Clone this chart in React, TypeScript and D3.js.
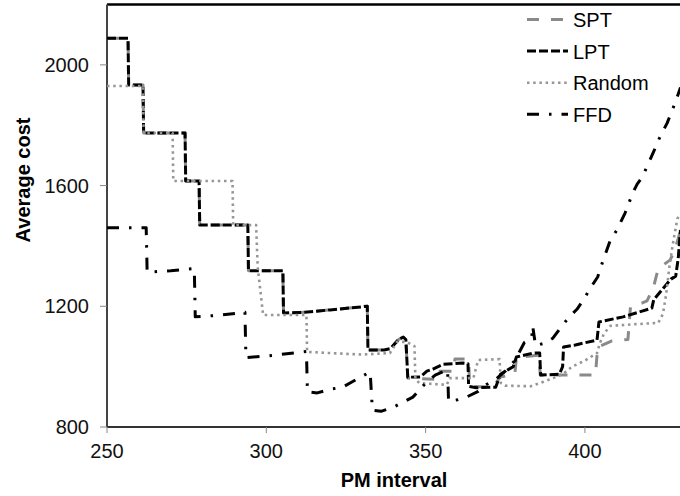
import React from "react";
import * as d3 from "d3";

type P = [number, number];

const xTicks = [250, 300, 350, 400];
const yTicks = [800, 1200, 1600, 2000];
const seriesNames = ["SPT", "LPT", "Random", "FFD"];

const sptPoints: P[] = [
  [250, 2088], [256.6, 2088], [256.8, 1933], [261.3, 1933], [261.5, 1774], [274.5, 1774],
  [274.7, 1615], [278.9, 1615], [279.1, 1469], [294.2, 1469], [294.4, 1318], [305.2, 1318],
  [305.4, 1178], [312, 1180], [320, 1188], [331.7, 1200], [331.9, 1055], [337, 1055],
  [339, 1060], [341.5, 1090], [343, 1098], [343.8, 1090], [344.4, 962], [354, 958],
  [354.5, 985], [358.8, 985], [359.2, 1025], [363.5, 1025], [363.8, 935], [371, 932],
  [373.5, 966], [378, 975], [378.5, 1030], [385.5, 1038], [386, 972], [403.3, 972],
  [404, 1065], [408.5, 1085], [413.5, 1090], [414.3, 1198], [418, 1211], [419.5, 1218],
  [421.5, 1262], [423, 1325], [426.7, 1353], [428, 1380], [430, 1450],
];

const lptPoints: P[] = [
  [250, 2088], [256.6, 2088], [256.8, 1933], [261.3, 1933], [261.5, 1774], [274.5, 1774],
  [274.7, 1615], [278.9, 1615], [279.1, 1469], [294.2, 1469], [294.4, 1318], [305.2, 1318],
  [305.4, 1178], [312, 1180], [320, 1188], [331.7, 1200], [331.9, 1055], [337, 1055],
  [339, 1060], [341.5, 1090], [343, 1098], [343.8, 1090], [344.4, 965], [348.3, 966],
  [350.4, 985], [352.3, 992], [355.5, 1008], [361.7, 1012], [363.3, 1010], [363.5, 935],
  [366, 930], [372, 932], [373.5, 975], [377.5, 1000], [378.5, 1032], [383.7, 1045],
  [385.8, 1045], [386.1, 972], [392, 975], [393, 1000], [393.3, 1065], [397, 1072],
  [403.8, 1088], [404.4, 1148], [412, 1165], [421, 1194], [421.6, 1222], [427, 1290],
  [428.5, 1300], [429.3, 1360], [430, 1453],
];

const randomPoints: P[] = [
  [250, 1930], [261.3, 1930], [261.5, 1774], [270.6, 1774], [270.8, 1615], [289.4, 1615],
  [289.6, 1469], [296.8, 1469], [297.3, 1330], [299, 1171], [312.6, 1171], [312.8, 1049],
  [320, 1045], [330, 1040], [338.8, 1045], [341, 1082], [344, 1082], [346.5, 1068],
  [346.8, 956], [348.2, 945], [356.7, 940], [357.5, 962], [365, 962], [366.5, 1022],
  [373.2, 1025], [373.6, 946], [375, 937], [383, 935], [387, 950], [390, 962], [393, 975],
  [396, 1000], [400, 1020], [403.8, 1045], [404.7, 1078], [406, 1110], [408, 1135],
  [415, 1140], [423, 1145], [424.5, 1175], [425.5, 1240], [426.5, 1330], [427.5, 1400],
  [429, 1490], [430, 1505],
];

const ffdPoints: P[] = [
  [250, 1460], [262.3, 1460], [262.6, 1313], [270, 1318], [277.4, 1325], [277.7, 1165],
  [285, 1170], [293.3, 1180], [293.6, 1030], [300, 1035], [312.6, 1050], [312.9, 917],
  [316, 913], [320, 925], [324, 932], [326.3, 946], [330, 968], [332.6, 982], [333.3, 856],
  [336, 852], [340, 866], [343, 883], [346, 899], [350, 945], [353, 972], [356.9, 990],
  [357.2, 885], [360, 890], [363, 900], [366.5, 918], [369, 940], [372, 958], [375, 985],
  [378, 1020], [381, 1080], [383.3, 1095], [383.6, 1135], [384.5, 1070], [387.5, 1078],
  [390, 1095], [392.5, 1131], [395, 1164], [397.5, 1190], [399.5, 1221], [402, 1265],
  [404, 1297], [405, 1330], [408, 1420], [410, 1452], [412.6, 1509], [415, 1575],
  [416.4, 1605], [418, 1628], [421.4, 1708], [423.5, 1760], [425.8, 1807], [428.3, 1874],
  [430, 1925],
];

const seriesData = [sptPoints, lptPoints, randomPoints, ffdPoints];

const styles = [
  { color: "#8a8a8a", width: 3, dash: "12 12" },
  { color: "#000000", width: 3, dash: "9 3" },
  { color: "#969696", width: 2.6, dash: "2.5 3.7" },
  { color: "#000000", width: 3, dash: "12 10 2.5 10" },
];

const W = 680;
const H = 496;
const left = 107;
const right = 680.5;
const top = 4.5;
const bottom = 427;

export default function App() {
  const x = d3.scaleLinear().domain([250, 430]).range([left, right]);
  const y = d3.scaleLinear().domain([800, 2200]).range([bottom, top]);
  const line = d3
    .line<P>()
    .x((d) => x(d[0]))
    .y((d) => y(d[1]));
  const font = "'Liberation Sans', Arial, sans-serif";

  return (
    <svg
      width={W}
      height={H}
      style={{ position: "absolute", left: 0, top: 0, background: "#fff" }}
      fontFamily={font}
    >
      <defs>
        <clipPath id="plot">
          <rect x={left} y={top - 2} width={right - left + 5} height={bottom - top + 2} />
        </clipPath>
      </defs>

      {/* frame */}
      <line x1={left} x2={W} y1={top} y2={top} stroke="#000" strokeWidth={2.5} />
      <line x1={left} x2={left} y1={top} y2={bottom} stroke="#444" strokeWidth={2} />
      <line x1={left} x2={W} y1={bottom} y2={bottom} stroke="#333" strokeWidth={2} />

      {/* y ticks */}
      {yTicks.map((t) => (
        <g key={"y" + t}>
          <line x1={left - 7} x2={left} y1={y(t)} y2={y(t)} stroke="#888" strokeWidth={1} />
          <text x={89} y={y(t) + 7} textAnchor="end" fontSize={20} fill="#111">
            {t}
          </text>
        </g>
      ))}

      {/* x ticks */}
      {xTicks.map((t) => (
        <g key={"x" + t}>
          <line x1={x(t)} x2={x(t)} y1={bottom} y2={bottom + 6} stroke="#888" strokeWidth={1} />
          <text x={x(t)} y={458} textAnchor="middle" fontSize={20} fill="#111">
            {t}
          </text>
        </g>
      ))}

      <text x={394} y={487} textAnchor="middle" fontSize={20} fontWeight="bold" fill="#000">
        PM interval
      </text>
      <text
        transform="translate(29.5,180) rotate(-90)"
        textAnchor="middle"
        fontSize={20}
        fontWeight="bold"
        fill="#000"
      >
        Average cost
      </text>

      <g clipPath="url(#plot)">
        {seriesData.map((pts, i) => (
          <path
            key={seriesNames[i]}
            d={line(pts) || ""}
            fill="none"
            stroke={styles[i].color}
            strokeWidth={styles[i].width}
            strokeDasharray={styles[i].dash}
            strokeLinejoin="round"
          />
        ))}
      </g>

      {/* legend */}
      {seriesNames.map((name, i) => {
        const ly = 19.5 + i * 31.6;
        return (
          <g key={"lg" + name}>
            <line
              x1={527}
              x2={568}
              y1={ly}
              y2={ly}
              stroke={styles[i].color}
              strokeWidth={styles[i].width}
              strokeDasharray={styles[i].dash}
            />
            <text x={573} y={ly + 7.5} fontSize={20} fill="#000">
              {name}
            </text>
          </g>
        );
      })}
    </svg>
  );
}
